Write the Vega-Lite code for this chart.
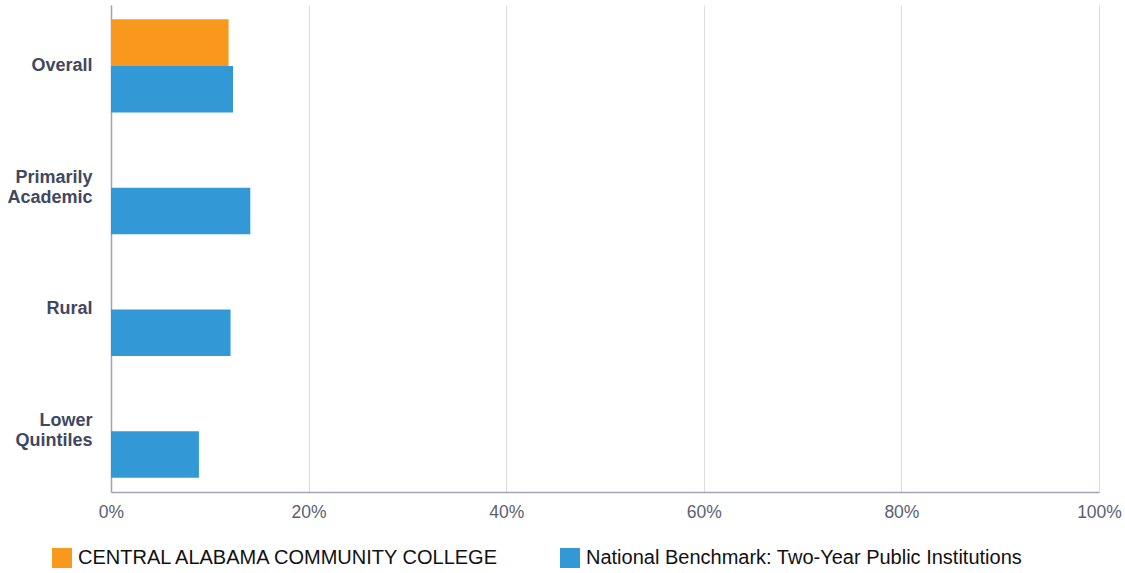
{
  "$schema": "https://vega.github.io/schema/vega-lite/v6.json",
  "width": 988,
  "height": 487,
  "autosize": {"type": "none"},
  "padding": {"left": 111, "top": 5, "right": 26, "bottom": 81},
  "background": "white",
  "config": {
    "view": {"stroke": null},
    "font": "Liberation Sans"
  },
  "data": {
    "values": [
      {"category": "Overall", "series": "CENTRAL ALABAMA COMMUNITY COLLEGE", "value": 11.9},
      {"category": "Overall", "series": "National Benchmark: Two-Year Public Institutions", "value": 12.35},
      {"category": "Primarily Academic", "series": "National Benchmark: Two-Year Public Institutions", "value": 14.1},
      {"category": "Rural", "series": "National Benchmark: Two-Year Public Institutions", "value": 12.1},
      {"category": "Lower Quintiles", "series": "National Benchmark: Two-Year Public Institutions", "value": 8.9}
    ]
  },
  "mark": {"type": "bar", "cornerRadius": 0},
  "encoding": {
    "y": {
      "field": "category",
      "type": "nominal",
      "sort": ["Overall", "Primarily Academic", "Rural", "Lower Quintiles"],
      "scale": {"paddingInner": 0.236, "paddingOuter": 0.118},
      "axis": {
        "title": null,
        "labelExpr": "split(datum.label, ' ')",
        "labelFont": "Liberation Sans",
        "labelFontSize": 18,
        "labelFontWeight": "bold",
        "labelColor": "#414762",
        "labelPadding": 19,
        "labelLineHeight": 20,
        "labelOffset": {"condition": {"test": "indexof(datum.label, ' ') >= 0", "value": -10}, "value": 0},
        "ticks": false,
        "domainColor": "#9ea2bb",
        "domainWidth": 1.5,
        "grid": false
      }
    },
    "yOffset": {
      "field": "series",
      "type": "nominal",
      "sort": ["CENTRAL ALABAMA COMMUNITY COLLEGE", "National Benchmark: Two-Year Public Institutions"],
      "scale": {"paddingInner": 0, "paddingOuter": 0}
    },
    "x": {
      "field": "value",
      "type": "quantitative",
      "scale": {"domain": [0, 100], "nice": false},
      "axis": {
        "title": null,
        "values": [0, 20, 40, 60, 80, 100],
        "labelExpr": "datum.value + '%'",
        "labelFont": "Liberation Sans",
        "labelFontSize": 17.5,
        "labelColor": "#5a5f72",
        "labelPadding": 11,
        "labelFlush": false,
        "ticks": false,
        "domainColor": "#9ea2bb",
        "domainWidth": 1.5,
        "grid": true,
        "gridColor": "#dddddd",
        "gridWidth": 1
      }
    },
    "color": {
      "field": "series",
      "type": "nominal",
      "sort": ["CENTRAL ALABAMA COMMUNITY COLLEGE", "National Benchmark: Two-Year Public Institutions"],
      "scale": {
        "domain": ["CENTRAL ALABAMA COMMUNITY COLLEGE", "National Benchmark: Two-Year Public Institutions"],
        "range": ["#F8981D", "#3399D6"]
      },
      "legend": {
        "title": null,
        "orient": "none",
        "legendX": -59,
        "legendY": 543,
        "direction": "horizontal",
        "symbolType": "square",
        "symbolSize": 400,
        "symbolStrokeWidth": 0,
        "symbolOpacity": 1,
        "labelFont": "Liberation Sans",
        "labelFontSize": 20,
        "labelColor": "#111111",
        "labelLimit": 0,
        "labelOffset": 6,
        "columnPadding": 59
      }
    }
  }
}
